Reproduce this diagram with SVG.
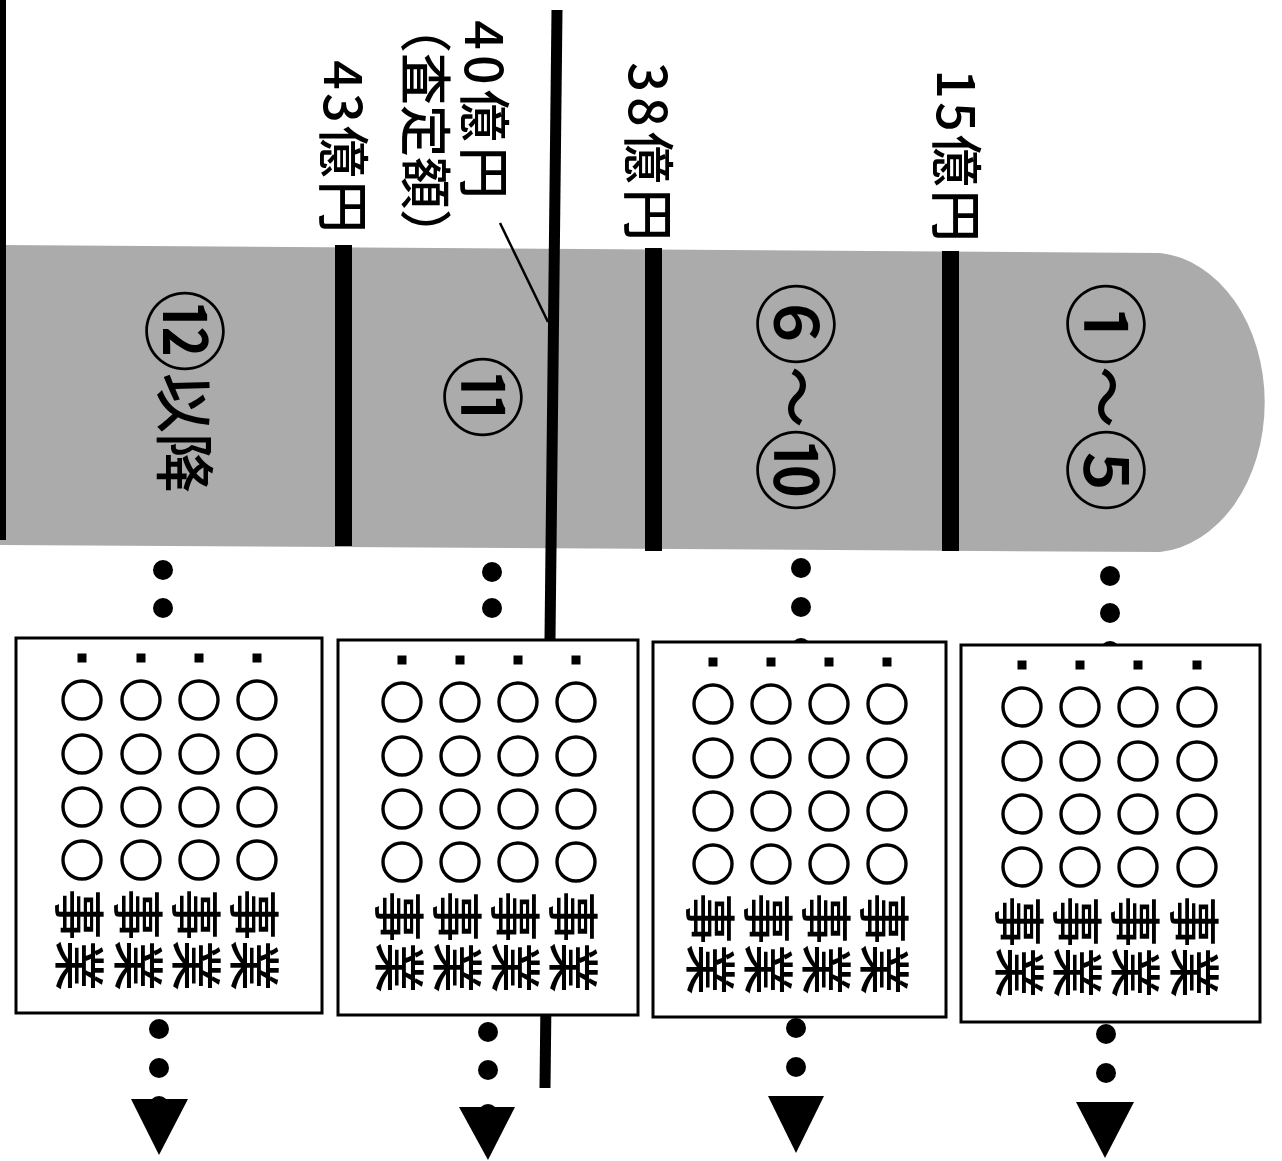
<svg xmlns="http://www.w3.org/2000/svg" width="1282" height="1161" viewBox="0 0 1282 1161">
<style>
.t{font-family:"Noto Sans CJK JP","Noto Sans",sans-serif;fill:#000;text-anchor:middle;dominant-baseline:central}
.lbl{font-size:52px;font-weight:500}
.big{font-size:84px;font-weight:500}
.big tspan{dominant-baseline:central}
.tl{font-size:62px}
.biz{font-size:51px;font-weight:500}
.box{fill:#fff;stroke:#000;stroke-width:3}
.c{fill:none;stroke:#000;stroke-width:3.4}
.dot{fill:#000}
.bar{fill:#000}
</style>
<defs>
<g id="col">
<rect x="-4.5" y="15.5" width="9" height="9" fill="#000"/>
<circle class="c" cx="0" cy="62" r="19"/>
<circle class="c" cx="0" cy="116" r="19"/>
<circle class="c" cx="0" cy="169" r="19"/>
<circle class="c" cx="0" cy="222" r="19"/>
</g>
</defs>
<rect width="1282" height="1161" fill="#fff"/>

<g id="band">
<path d="M0,245 L1160,253 A114,150 0 0 1 1160,552 L0,545 Z" fill="#ababab"/>
<rect class="bar" x="335" y="245" width="17" height="301"/>
<rect class="bar" x="645" y="248" width="17" height="303"/>
<rect class="bar" x="942" y="251" width="17" height="300"/>
<text class="t big" transform="translate(1110,397) rotate(90)">①<tspan class="tl">～</tspan>⑤</text>
<text class="t big" transform="translate(800,397) rotate(90)">⑥<tspan class="tl">～</tspan>⑩</text>
<text class="t big" transform="translate(487,397) rotate(90)">⑪</text>
<text class="t big" transform="translate(189,391) rotate(90)">⑫<tspan style="font-size:60px">以降</tspan></text>
</g>

<g id="labels">
<text class="t lbl" transform="translate(959,157) rotate(90)" letter-spacing="3">15億円</text>
<text class="t lbl" transform="translate(651,154) rotate(90)" letter-spacing="5">38億円</text>
<text class="t lbl" transform="translate(487,112) rotate(90)" letter-spacing="5">40億円</text>
<text class="t lbl" transform="translate(428,131) rotate(90)">（査定額）</text>
<text class="t lbl" transform="translate(346,148) rotate(90)" letter-spacing="3">43億円</text>
</g>

<g id="connectors">
<rect class="bar" x="0" y="0" width="6" height="540"/>
<line x1="557" y1="10" x2="545" y2="1088" stroke="#000" stroke-width="11"/>
<line x1="500" y1="223" x2="548" y2="322" stroke="#000" stroke-width="2.5"/>
<circle class="dot" cx="163" cy="570" r="10"/>
<circle class="dot" cx="163" cy="608" r="10"/>
<circle class="dot" cx="492" cy="572" r="10"/>
<circle class="dot" cx="492" cy="608" r="10"/>
<circle class="dot" cx="801" cy="568" r="10"/>
<circle class="dot" cx="801" cy="607" r="10"/>
<circle class="dot" cx="801" cy="648" r="10"/>
<circle class="dot" cx="1110" cy="576" r="10"/>
<circle class="dot" cx="1110" cy="613" r="10"/>
<circle class="dot" cx="1110" cy="651" r="10"/>
<circle class="dot" cx="159" cy="1029" r="10"/>
<circle class="dot" cx="159" cy="1068" r="10"/>
<circle class="dot" cx="159" cy="1106" r="10"/>
<polygon points="131,1099 188,1099 159,1155" fill="#000"/>
<circle class="dot" cx="488" cy="1032" r="10"/>
<circle class="dot" cx="488" cy="1070" r="10"/>
<circle class="dot" cx="488" cy="1114" r="10"/>
<polygon points="459,1107 515,1107 488,1160" fill="#000"/>
<circle class="dot" cx="796" cy="1028" r="10"/>
<circle class="dot" cx="796" cy="1067" r="10"/>
<polygon points="768,1096 824,1096 796,1153" fill="#000"/>
<circle class="dot" cx="1106" cy="1034" r="10"/>
<circle class="dot" cx="1106" cy="1073" r="10"/>
<polygon points="1076,1102 1134,1102 1105,1158" fill="#000"/>
</g>

<g id="box12">
<rect class="box" x="16" y="638" width="306" height="375"/>
<use href="#col" x="82" y="638"/><use href="#col" x="141" y="638"/><use href="#col" x="199" y="638"/><use href="#col" x="257" y="638"/>
<text class="t biz" transform="translate(82,940) rotate(90)">事業</text>
<text class="t biz" transform="translate(141,940) rotate(90)">事業</text>
<text class="t biz" transform="translate(199,940) rotate(90)">事業</text>
<text class="t biz" transform="translate(257,940) rotate(90)">事業</text>
</g>

<g id="box11">
<rect class="box" x="338" y="640" width="300" height="375"/>
<use href="#col" x="402" y="640"/><use href="#col" x="460" y="640"/><use href="#col" x="518" y="640"/><use href="#col" x="576" y="640"/>
<text class="t biz" transform="translate(402,942) rotate(90)">事業</text>
<text class="t biz" transform="translate(460,942) rotate(90)">事業</text>
<text class="t biz" transform="translate(518,942) rotate(90)">事業</text>
<text class="t biz" transform="translate(576,942) rotate(90)">事業</text>
</g>

<g id="box6-10">
<rect class="box" x="653" y="642" width="293" height="375"/>
<use href="#col" x="713" y="642"/><use href="#col" x="771" y="642"/><use href="#col" x="829" y="642"/><use href="#col" x="887" y="642"/>
<text class="t biz" transform="translate(713,944) rotate(90)">事業</text>
<text class="t biz" transform="translate(771,944) rotate(90)">事業</text>
<text class="t biz" transform="translate(829,944) rotate(90)">事業</text>
<text class="t biz" transform="translate(887,944) rotate(90)">事業</text>
</g>

<g id="box1-5">
<rect class="box" x="961" y="645" width="299" height="377"/>
<use href="#col" x="1022" y="645"/><use href="#col" x="1080" y="645"/><use href="#col" x="1138" y="645"/><use href="#col" x="1197" y="645"/>
<text class="t biz" transform="translate(1022,947) rotate(90)">事業</text>
<text class="t biz" transform="translate(1080,947) rotate(90)">事業</text>
<text class="t biz" transform="translate(1138,947) rotate(90)">事業</text>
<text class="t biz" transform="translate(1197,947) rotate(90)">事業</text>
</g>
</svg>
